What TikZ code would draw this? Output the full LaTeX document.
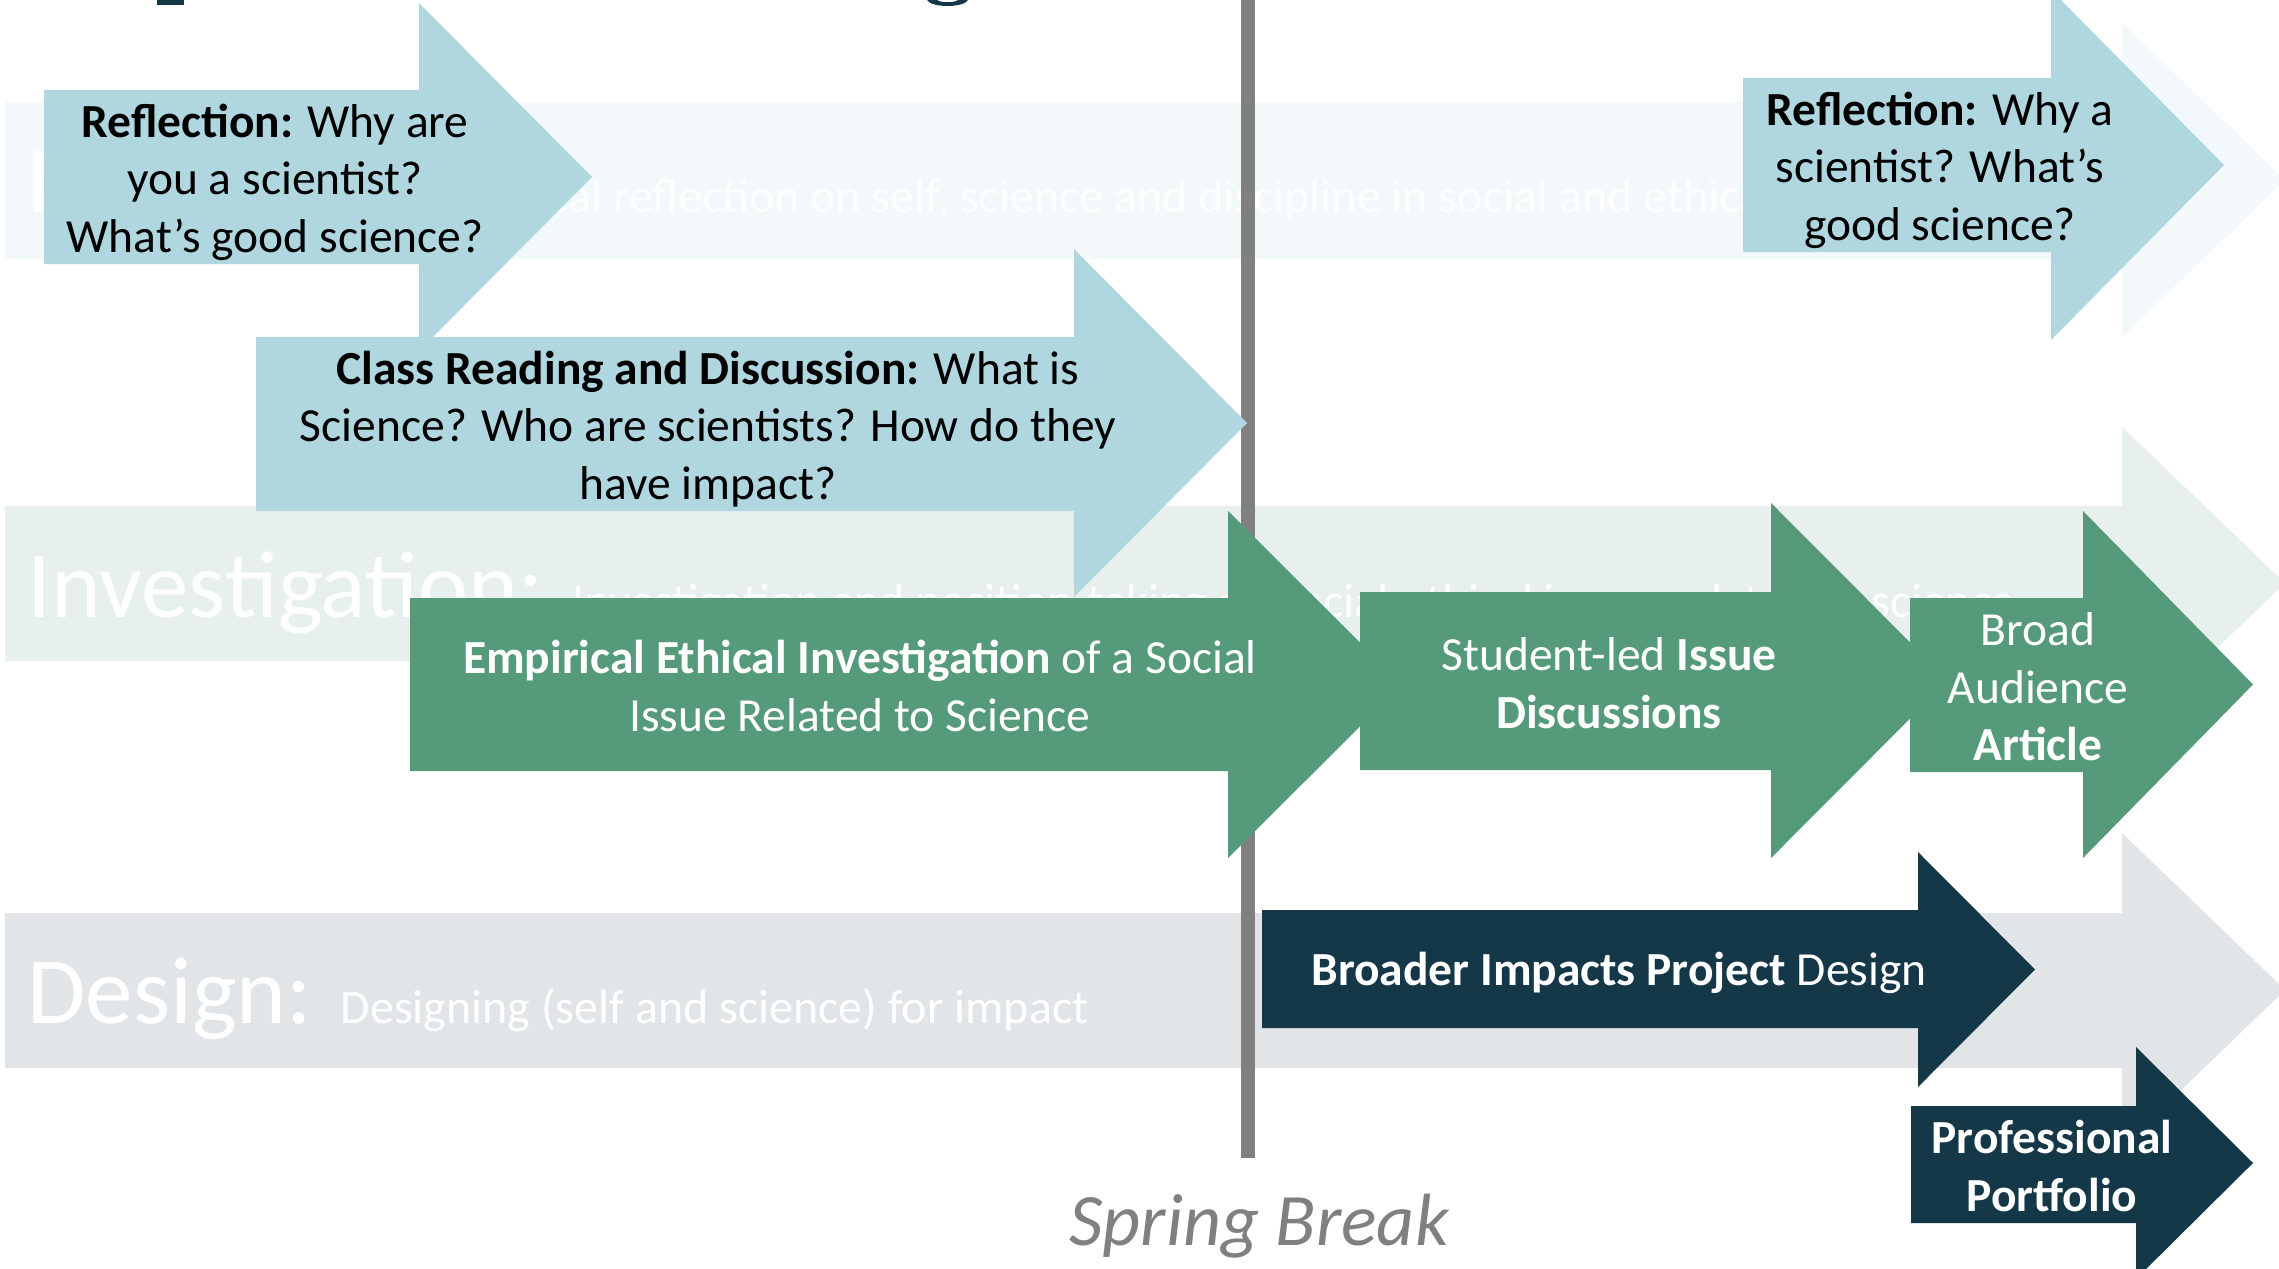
\documentclass[tikz,border=0pt]{standalone}
\usepackage{fontspec}
\setmainfont{Carlito}
\begin{document}
% block arrow: style, left x, body top, body bottom, head base x, head top, head bottom, tip x
\newcommand{\flowarrow}[8]{%
  \fill[#1] (#2,#3) -- (#5,#3) -- (#5,#6) -- (#8,{(#6+#7)/2}) -- (#5,#7) -- (#5,#4) -- (#2,#4) -- cycle;}
\definecolor{skyblue}{HTML}{B0D6E0}
\definecolor{sage}{HTML}{559A7A}
\definecolor{deepteal}{HTML}{153849}
\definecolor{paleblue}{HTML}{F3F9FA}
\definecolor{palegreen}{HTML}{E7F0EC}
\definecolor{palegray}{HTML}{E1E5E8}
\definecolor{midgray}{HTML}{808080}
\begin{tikzpicture}[x=0.5pt,y=-0.5pt,
  armtext/.style={font=\fontsize{23.75}{28.75}\selectfont, align=center, inner sep=0pt},
  bandtext/.style={anchor=base west, inner sep=0pt, text=white, font=\fontsize{47.5}{55}\selectfont}]
\useasboundingbox (0,0) rectangle (2279,1268);
\fill[white] (0,0) rectangle (2279,1268);
\begin{scope}
\clip (0,0) rectangle (2279,1268);
% remains of the heading above the frame
\fill[deepteal] (157,0) rectangle (184,5);
\fill[deepteal] (927,0) .. controls (931,8) and (964,8) .. (968,0) -- (958,0) .. controls (954,3) and (941,3) .. (937,0) -- cycle;
% three phase bands
\flowarrow{paleblue}{5}{102}{259}{2122}{23}{337}{2285}
\flowarrow{palegreen}{5}{506}{661}{2122}{427}{739}{2285}
\flowarrow{palegray}{5}{913}{1068}{2122}{833}{1147}{2285}
\node[bandtext] (bandR) at (27,212) {Reflection: {\fontsize{24}{28}\selectfont Critical reflection on self, science and discipline in social and ethical context}};
\node[bandtext] (bandI) at (27,617) {Investigation: {\fontsize{24}{28}\selectfont Investigation and position-taking on social-ethical issues related to science}};
\node[bandtext] (bandD) at (27,1023) {Design: {\fontsize{24}{28}\selectfont Designing (self and science) for impact}};
% spring break divider
\coordinate (breakTop) at (1248,-4);
\coordinate (breakBot) at (1248,1158);
\draw[midgray, line width=7pt] (breakTop) -- (breakBot);
% reflection and reading
\flowarrow{skyblue}{44}{90}{264}{419}{3}{351}{592}
\flowarrow{skyblue}{256}{337}{511}{1074}{249}{597}{1247}
\flowarrow{skyblue}{1743}{78}{252}{2051}{-10}{340}{2224}
% investigation steps
\flowarrow{sage}{410}{598}{771}{1228}{511}{858}{1402}
\flowarrow{sage}{1360}{592}{770}{1771}{503}{858}{1948}
\flowarrow{sage}{1910}{598}{772}{2083}{511}{858}{2253}
% design steps
\flowarrow{deepteal}{1262}{910}{1028}{1918}{852}{1087}{2035}
\flowarrow{deepteal}{1911}{1106}{1223}{2136}{1047}{1279}{2253}
\end{scope}
% labels
\node[armtext] (refA) at (275,182) {\textbf{Reflection:} Why are\\you a scientist?\\What’s good science?};
\node[armtext] (readA) at (708,429) {\textbf{Class Reading and Discussion:} What is\\Science? Who are scientists? How do they\\have impact?};
\node[armtext] (refB) at (1940,170) {\textbf{Reflection:} Why a\\scientist? What’s\\good science?};
\node[armtext, text=white] (invA) at (860,686) {\textbf{Empirical Ethical Investigation} of a Social\\Issue Related to Science};
\node[armtext, text=white] (invB) at (1609,683) {Student-led \textbf{Issue}\\\textbf{Discussions}};
\node[armtext, text=white] (invC) at (2038,687) {Broad\\Audience\\\textbf{Article}};
\node[armtext, text=white] (desA) at (1619,973) {\textbf{Broader Impacts Project} Design};
\node[armtext, text=white] (desB) at (2052,1166) {\textbf{Professional}\\\textbf{Portfolio}};
\node[anchor=base, inner sep=0pt, text=midgray, font=\fontsize{37}{41}\selectfont\itshape] (brk) at (1259,1245) {Spring Break};
\end{tikzpicture}
\end{document}
